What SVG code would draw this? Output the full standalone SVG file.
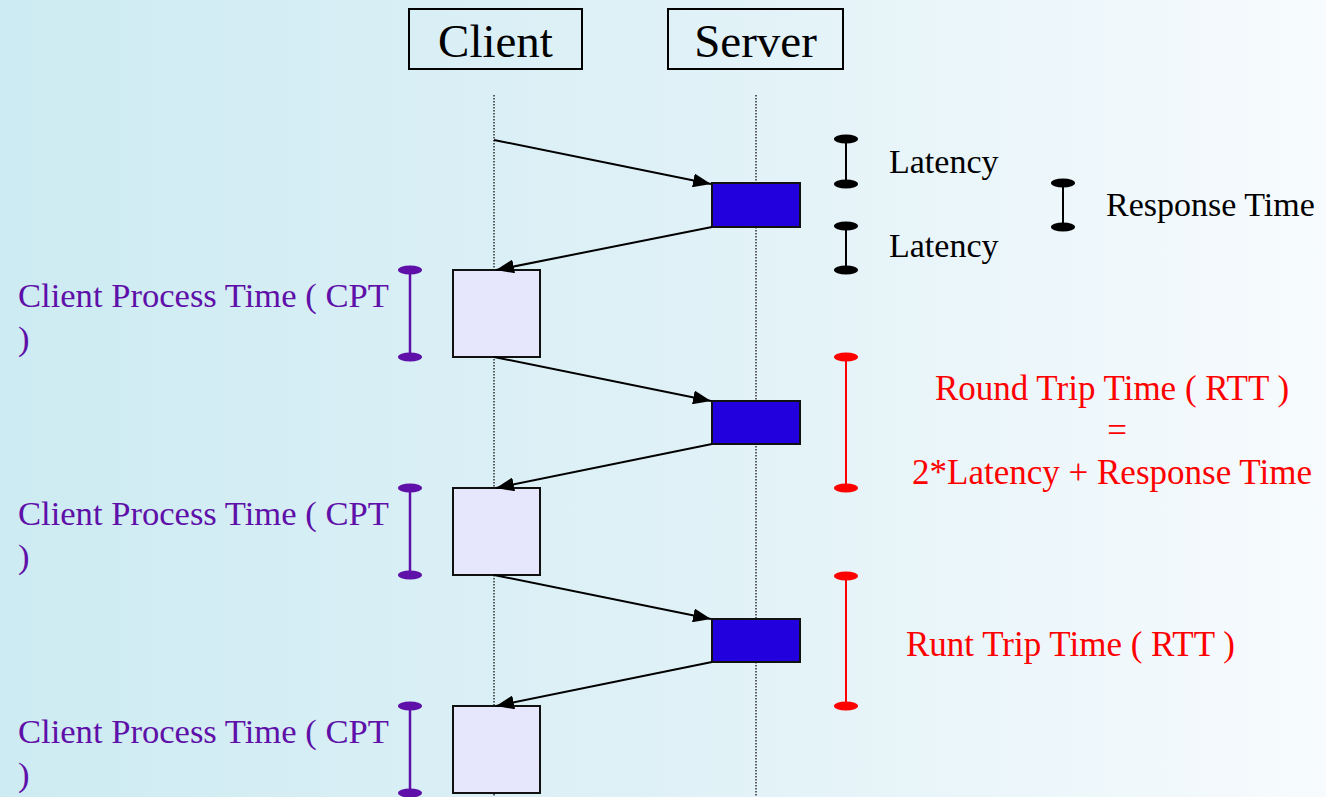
<svg xmlns="http://www.w3.org/2000/svg" width="1326" height="797" viewBox="0 0 1326 797">
<defs>
<linearGradient id="bg" x1="0" y1="0" x2="1" y2="0">
<stop offset="0" stop-color="#cdebf2"/>
<stop offset="0.5" stop-color="#dff1f7"/>
<stop offset="1" stop-color="#f7fbfd"/>
</linearGradient>
<marker id="arr" viewBox="0 0 18 14" refX="18" refY="7" markerWidth="18" markerHeight="14" markerUnits="userSpaceOnUse" orient="auto">
<path d="M0,0 L18,7 L0,14 Z" fill="#000"/>
</marker>
</defs>
<style>
.t{font-family:"Liberation Serif","Times New Roman",serif;}
.hdr{fill:none;stroke:#000;stroke-width:2;}
.life{stroke:#000;stroke-width:1.2;stroke-dasharray:1.5 1.5;}
.srv{fill:#2200dd;stroke:#111;stroke-width:2;}
.cli{fill:#e6e6fc;stroke:#111;stroke-width:2;}
.msg{stroke:#000;stroke-width:2;fill:none;marker-end:url(#arr);}
.bk line{stroke:#000;stroke-width:2;}
.bk ellipse{fill:#000;}
.pu line{stroke:#5e10a8;stroke-width:2.5;}
.pu ellipse{fill:#5e10a8;}
.rd line{stroke:#ff0000;stroke-width:2;}
.rd ellipse{fill:#ff0000;}
</style>
<rect width="1326" height="797" fill="url(#bg)"/>

<g id="client-header">
<rect class="hdr" x="409" y="9" width="173" height="60"/>
<text class="t" x="495.5" y="57" font-size="47" text-anchor="middle">Client</text>
</g>
<g id="server-header">
<rect class="hdr" x="668" y="9" width="175" height="60"/>
<text class="t" x="755.5" y="57" font-size="47" text-anchor="middle">Server</text>
</g>

<g id="lifelines">
<line class="life" x1="494" y1="95" x2="494" y2="797"/>
<line class="life" x1="756" y1="95" x2="756" y2="797"/>
</g>

<g id="server-proc-1"><rect class="srv" x="712" y="183" width="88" height="44"/></g>
<g id="server-proc-2"><rect class="srv" x="712" y="401" width="88" height="43"/></g>
<g id="server-proc-3"><rect class="srv" x="712" y="619" width="88" height="43"/></g>

<g id="client-proc-1"><rect class="cli" x="453" y="270" width="87" height="87"/></g>
<g id="client-proc-2"><rect class="cli" x="453" y="488" width="87" height="87"/></g>
<g id="client-proc-3"><rect class="cli" x="453" y="706" width="87" height="87"/></g>

<g id="connectors">
<line class="msg" x1="494" y1="140" x2="711" y2="184"/>
<line class="msg" x1="712" y1="227" x2="496" y2="270"/>
<line class="msg" x1="494" y1="357" x2="711" y2="401"/>
<line class="msg" x1="712" y1="444" x2="496" y2="488"/>
<line class="msg" x1="494" y1="575" x2="711" y2="619"/>
<line class="msg" x1="712" y1="662" x2="496" y2="706"/>
</g>

<g id="latency-1" class="bk">
<line x1="846" y1="139" x2="846" y2="184"/>
<ellipse cx="846" cy="139" rx="12" ry="4.5"/>
<ellipse cx="846" cy="184" rx="12" ry="4.5"/>
<text class="t" x="889" y="173" font-size="34">Latency</text>
</g>
<g id="latency-2" class="bk">
<line x1="846" y1="226" x2="846" y2="270"/>
<ellipse cx="846" cy="226" rx="12" ry="4.5"/>
<ellipse cx="846" cy="270" rx="12" ry="4.5"/>
<text class="t" x="889" y="257" font-size="34">Latency</text>
</g>
<g id="response-time" class="bk">
<line x1="1063" y1="183" x2="1063" y2="227"/>
<ellipse cx="1063" cy="183" rx="12" ry="4.5"/>
<ellipse cx="1063" cy="227" rx="12" ry="4.5"/>
<text class="t" x="1106" y="216" font-size="34">Response Time</text>
</g>

<g id="cpt-1" class="pu">
<line x1="410" y1="270" x2="410" y2="357"/>
<ellipse cx="410" cy="270" rx="12" ry="4.5"/>
<ellipse cx="410" cy="357" rx="12" ry="4.5"/>
<text class="t" x="18" y="307" font-size="34.6" fill="#5e10a8">Client Process Time ( CPT</text>
<text class="t" x="18" y="350" font-size="34.6" fill="#5e10a8">)</text>
</g>
<g id="cpt-2" class="pu">
<line x1="410" y1="488" x2="410" y2="575"/>
<ellipse cx="410" cy="488" rx="12" ry="4.5"/>
<ellipse cx="410" cy="575" rx="12" ry="4.5"/>
<text class="t" x="18" y="525" font-size="34.6" fill="#5e10a8">Client Process Time ( CPT</text>
<text class="t" x="18" y="568" font-size="34.6" fill="#5e10a8">)</text>
</g>
<g id="cpt-3" class="pu">
<line x1="410" y1="706" x2="410" y2="793"/>
<ellipse cx="410" cy="706" rx="12" ry="4.5"/>
<ellipse cx="410" cy="793" rx="12" ry="4.5"/>
<text class="t" x="18" y="743" font-size="34.6" fill="#5e10a8">Client Process Time ( CPT</text>
<text class="t" x="18" y="786" font-size="34.6" fill="#5e10a8">)</text>
</g>

<g id="rtt-1" class="rd">
<line x1="846" y1="357" x2="846" y2="488"/>
<ellipse cx="846" cy="357" rx="12" ry="4.5"/>
<ellipse cx="846" cy="488" rx="12" ry="4.5"/>
<text class="t" x="1112" y="400" font-size="35" fill="#ff0000" text-anchor="middle">Round Trip Time ( RTT )</text>
<text class="t" x="1117" y="442" font-size="35" fill="#ff0000" text-anchor="middle">=</text>
<text class="t" x="1112" y="484" font-size="35" fill="#ff0000" text-anchor="middle">2*Latency + Response Time</text>
</g>
<g id="rtt-2" class="rd">
<line x1="846" y1="576" x2="846" y2="706"/>
<ellipse cx="846" cy="576" rx="12" ry="4.5"/>
<ellipse cx="846" cy="706" rx="12" ry="4.5"/>
<text class="t" x="906" y="656" font-size="35" fill="#ff0000">Runt Trip Time ( RTT )</text>
</g>
</svg>
